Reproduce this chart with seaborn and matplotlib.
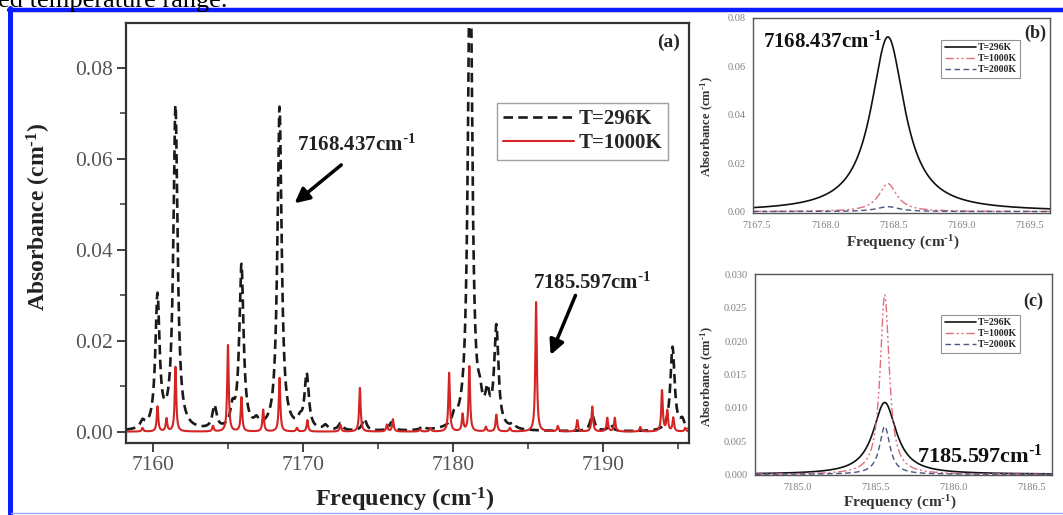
"""
Absorbance spectra of the 7160-7195 cm-1 band at several temperatures.
Panel (a): full band, (b)/(c): zoom on two selected lines.
Output: out.png
"""
import matplotlib
matplotlib.use("Agg")
import matplotlib.pyplot as plt
import numpy as np
import pandas as pd
import seaborn as sns
from matplotlib.lines import Line2D
from matplotlib.ticker import MultipleLocator, FormatStrFormatter

# ---- panel (a): line list (centre cm-1, peak absorbance)
A_296_CENTERS = [7159.3, 7160.3, 7161.5, 7164.1, 7165.3, 7165.9, 7166.9, 7168.44,
                 7169.8, 7170.25, 7171.5, 7172.5, 7174.1, 7175.9, 7178.0, 7180.1,
                 7181.15, 7181.8, 7182.3, 7182.9, 7184.0, 7189.3, 7190.5, 7194.65,
                 7195.3]
A_296_HEIGHTS = [0.0015, 0.029, 0.071, 0.005, 0.004, 0.036, 0.0015, 0.071,
                 0.0015, 0.0120, 0.001, 0.0015, 0.0026, 0.0018, 0.0008, 0.0020,
                 0.11, 0.004, 0.006, 0.022, 0.001, 0.0035, 0.0015, 0.0185,
                 0.002]
A_296_HWHM = 0.17

A_1000_CENTERS = [7159.3, 7160.3, 7160.9, 7161.5, 7164.0, 7165.0, 7165.9, 7167.35,
                  7168.44, 7169.6, 7170.3, 7172.5, 7173.8, 7175.6, 7176.0, 7177.8,
                  7178.5, 7179.75, 7180.65, 7181.1, 7182.2, 7182.9, 7183.8, 7185.55,
                  7187.0, 7188.3, 7189.3, 7190.3, 7190.8, 7192.5, 7193.95, 7194.3,
                  7194.7, 7195.5]
A_1000_HEIGHTS = [0.0008, 0.0055, 0.0028, 0.0142, 0.0012, 0.019, 0.0075, 0.0048,
                  0.0118, 0.0008, 0.0025, 0.0015, 0.0096, 0.0015, 0.0027, 0.0005,
                  0.0008, 0.0129, 0.0037, 0.0143, 0.0010, 0.0037, 0.0008, 0.0285,
                  0.0012, 0.0025, 0.0055, 0.0030, 0.0030, 0.0010, 0.0090, 0.0045,
                  0.0030, 0.0008]
A_1000_HWHM = 0.06

# ---- panel (b): 7168.437 cm-1 line
B_TEMPS = ["T=296K", "T=1000K", "T=2000K"]
B_CENTER = 7168.46
B_HEIGHTS = [0.072, 0.0115, 0.002]
B_HWHM = [0.15, 0.08, 0.10]

# ---- panel (c): 7185.597 cm-1 line
C_TEMPS = ["T=296K", "T=1000K", "T=2000K"]
C_CENTER = 7185.56
C_HEIGHTS = [0.0108, 0.027, 0.0072]
C_HWHM = [0.09, 0.035, 0.04]

W, H = 1063, 515
SERIF = ["Liberation Serif", "DejaVu Serif"]
RED = "#d42424"
PINK = "#e0707e"
SLATE = "#4a5580"
DASHED_A = (0, (3.6, 2.0))
DASHDOTDOT = (0, (6, 2, 1.5, 2, 1.5, 2))
INV_CM = r"cm$^{\text{-}1}$"


def lorentz_sum(x, centers, heights, hwhm):
    y = np.zeros_like(x)
    for c, h in zip(centers, heights):
        y += h * hwhm ** 2 / ((x - c) ** 2 + hwhm ** 2)
    return y


def frame(px_left, px_top, px_right, px_bottom):
    return [px_left / W, 1 - px_bottom / H, (px_right - px_left) / W, (px_bottom - px_top) / H]


def style_small(ax, tick_fmt):
    for s in ax.spines.values():
        s.set_linewidth(1.0)
        s.set_color("#555555")
    ax.tick_params(which="major", direction="out", length=3.5, width=0.8, color="#555555",
                   labelsize=7.5, labelcolor="#808080", pad=2, top=False, right=False)
    ax.tick_params(which="minor", direction="out", length=2, width=0.6, color="#555555")
    ax.yaxis.set_major_formatter(FormatStrFormatter(tick_fmt))
    ax.xaxis.set_major_formatter(FormatStrFormatter("%.1f"))


def main():
    sns.set_theme(style="white")
    plt.rcParams["font.family"] = SERIF
    plt.rcParams["mathtext.default"] = "regular"

    fig = plt.figure(figsize=(W / 100, H / 100), dpi=100)
    fig.patch.set_facecolor("white")

    # ---------------- panel (a)
    ax = fig.add_axes(frame(126, 23, 689, 443))
    x = np.arange(7157.5, 7196.5, 0.004)
    df = pd.DataFrame({
        "freq": x,
        "a296": lorentz_sum(x, A_296_CENTERS, A_296_HEIGHTS, A_296_HWHM),
        "a1000": lorentz_sum(x, A_1000_CENTERS, A_1000_HEIGHTS, A_1000_HWHM),
    })
    sns.lineplot(data=df, x="freq", y="a296", ax=ax, color="#1a1a1a", lw=1.9,
                 linestyle=DASHED_A, estimator=None, sort=False)
    sns.lineplot(data=df, x="freq", y="a1000", ax=ax, color=RED, lw=1.5,
                 estimator=None, sort=False)
    ax.set_xlim(7158.2, 7195.75)
    ax.set_ylim(-0.0025, 0.0898)
    ax.xaxis.set_major_locator(MultipleLocator(10))
    ax.xaxis.set_minor_locator(MultipleLocator(5))
    ax.yaxis.set_major_locator(MultipleLocator(0.02))
    ax.yaxis.set_minor_locator(MultipleLocator(0.01))
    ax.yaxis.set_major_formatter(FormatStrFormatter("%.2f"))
    for s in ax.spines.values():
        s.set_linewidth(1.6)
        s.set_color("#333333")
    ax.tick_params(which="major", direction="out", length=6.5, width=1.3, color="#333333",
                   labelsize=15.5, labelcolor="#555555", pad=3, top=False, right=False,
                   bottom=True, left=True)
    ax.tick_params(which="minor", direction="out", length=4, width=1.1, color="#333333",
                   bottom=True, left=True)
    ax.set_xlabel(f"Frequency ({INV_CM})", fontsize=17.5, fontweight="bold", color="#222222")
    ax.set_ylabel(f"Absorbance ({INV_CM})", fontsize=17, fontweight="bold", color="#222222")
    ax.xaxis.set_label_coords(0.496, -0.102)
    ax.yaxis.set_label_coords(-0.13, 0.538)

    handles = [Line2D([], [], color="#1a1a1a", lw=1.9, linestyle=DASHED_A),
               Line2D([], [], color=RED, lw=1.5)]
    leg = ax.legend(handles, ["T=296K", "T=1000K"], loc="upper right",
                    bbox_to_anchor=(0.963, 0.8095), borderaxespad=0, handlelength=3.4,
                    handletextpad=0.2, borderpad=0.3, labelspacing=0.2,
                    frameon=True, fancybox=False, prop={"weight": "bold", "size": 15})
    leg.get_frame().set_edgecolor("#888888")
    leg.get_frame().set_linewidth(1.0)

    ax.text(0.963, 0.955, "(a)", transform=ax.transAxes, ha="center", va="center",
            fontsize=14, fontweight="bold")
    ax.text(7173.6, 0.063, "7168.437" + INV_CM, ha="center", va="center",
            fontsize=15, fontweight="bold", color="#222222")
    ax.annotate("", xy=(7169.3, 0.0498), xytext=(7172.7, 0.059),
                arrowprops=dict(arrowstyle="-|>", color="black", lw=2.5, mutation_scale=22))
    ax.text(7189.3, 0.0327, "7185.597" + INV_CM, ha="center", va="center",
            fontsize=15, fontweight="bold", color="#222222")
    ax.annotate("", xy=(7186.45, 0.0163), xytext=(7188.25, 0.0305),
                arrowprops=dict(arrowstyle="-|>", color="black", lw=2.5, mutation_scale=22))

    # ---------------- panels (b) and (c)
    small_styles = [dict(color="#111111", lw=1.2, linestyle="-"),
                    dict(color=PINK, lw=1.0, linestyle=DASHDOTDOT),
                    dict(color=SLATE, lw=1.0, linestyle=(0, (4, 2.5)))]

    panels = [
        dict(box=(753, 17.5, 1050, 213), temps=B_TEMPS, center=B_CENTER, heights=B_HEIGHTS,
             hwhm=B_HWHM, xlim=(7167.47, 7169.65), ylim=(-0.0006, 0.08), ymaj=0.02, ymin=0.01,
             fmt="%.2f", tag="(b)", tag_xy=(0.95, 0.92), big="7168.437" + INV_CM,
             big_fs=15, big_xy=(0.035, 0.875), leg_xy=(0.90, 0.885), xl=(0.505, -0.105),
             yl=(-0.125, 0.44)),
        dict(box=(755, 274, 1052, 475), temps=C_TEMPS, center=C_CENTER, heights=C_HEIGHTS,
             hwhm=C_HWHM, xlim=(7184.73, 7186.63), ylim=(-0.0001, 0.0301), ymaj=0.005,
             ymin=0.0025, fmt="%.3f", tag="(c)", tag_xy=(0.936, 0.862),
             big="7185.597" + INV_CM, big_fs=16, big_xy=(0.544, 0.095), leg_xy=(0.893, 0.796),
             xl=(0.488, -0.095), yl=(-0.131, 0.489)),
    ]
    for p in panels:
        axp = fig.add_axes(frame(*p["box"]))
        xs = np.linspace(p["xlim"][0] - 0.05, p["xlim"][1] + 0.05, 1500)
        for temp, h, g, st in zip(p["temps"], p["heights"], p["hwhm"], small_styles):
            ys = lorentz_sum(xs, [p["center"]], [h], g)
            sns.lineplot(x=xs, y=ys, ax=axp, label=temp, estimator=None, sort=False, **st)
        axp.set_xlim(*p["xlim"])
        axp.set_ylim(*p["ylim"])
        axp.xaxis.set_major_locator(MultipleLocator(0.5))
        axp.xaxis.set_minor_locator(MultipleLocator(0.25))
        axp.yaxis.set_major_locator(MultipleLocator(p["ymaj"]))
        axp.yaxis.set_minor_locator(MultipleLocator(p["ymin"]))
        style_small(axp, p["fmt"])
        axp.set_xlabel(f"Frequency ({INV_CM})", fontsize=11, fontweight="bold", color="#333333")
        axp.set_ylabel(f"Absorbance ({INV_CM})", fontsize=9, fontweight="bold", color="#333333")
        axp.xaxis.set_label_coords(*p["xl"])
        axp.yaxis.set_label_coords(*p["yl"])
        lg = axp.legend(loc="upper right", bbox_to_anchor=p["leg_xy"], borderaxespad=0,
                        handlelength=3.2, handletextpad=0.2, borderpad=0.35, labelspacing=0.2,
                        frameon=True, fancybox=False,
                        prop={"weight": "bold", "size": 7, "family": SERIF})
        lg.get_frame().set_edgecolor("#777777")
        lg.get_frame().set_linewidth(0.8)
        axp.text(*p["tag_xy"], p["tag"], transform=axp.transAxes, ha="center", va="center",
                 fontsize=13, fontweight="bold")
        axp.text(*p["big_xy"], p["big"], transform=axp.transAxes, ha="left", va="center",
                 fontsize=p["big_fs"], fontweight="bold", color="#111111")

    # clipped caption line of the page and the blue page frame around the figure
    fig.text(-0.002, 1 - 6.5 / H, "ed temperature range.", fontsize=19, va="baseline",
             ha="left", color="black")
    fig.add_artist(Line2D([9 / W, 1.0], [1 - 9.5 / H, 1 - 9.5 / H], transform=fig.transFigure,
                          color="#0b1cff", lw=3.2))
    fig.add_artist(Line2D([9.5 / W, 9.5 / W], [0.0, 1 - 8 / H], transform=fig.transFigure,
                          color="#0b1cff", lw=3.6))
    fig.add_artist(Line2D([11 / W, 1.0], [2 / H, 2 / H], transform=fig.transFigure,
                          color="#a0a6ff", lw=1.0))

    fig.savefig("out.png", dpi=100)
    plt.close(fig)


if __name__ == "__main__":
    main()
